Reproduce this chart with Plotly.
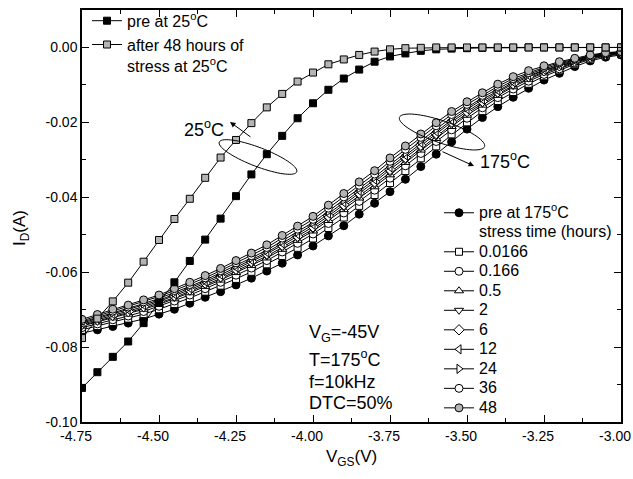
import numpy as np
import plotly.graph_objects as go

# ---------------- data ----------------
vgs = [-4.75, -4.70, -4.65, -4.60, -4.55, -4.50, -4.45, -4.40, -4.35, -4.30,
       -4.25, -4.20, -4.15, -4.10, -4.05, -4.00, -3.95, -3.90, -3.85, -3.80,
       -3.75, -3.70, -3.65, -3.60, -3.55, -3.50, -3.45, -3.40, -3.35, -3.30,
       -3.25, -3.20, -3.15, -3.10, -3.05, -3.00]

pre_25 = [-0.0909, -0.0867, -0.0826, -0.0785, -0.0736, -0.0682, -0.0627, -0.0570, -0.0513, -0.0457,
          -0.0397, -0.0339, -0.0285, -0.0236, -0.0189, -0.0149, -0.0113, -0.0083, -0.0059, -0.0038,
          -0.0024, -0.0016, -0.0009, -0.0005, -0.0003, -0.0002, -0.0001, -0.0001, -0.0001, 0.0,
          0.0, 0.0, 0.0, 0.0, 0.0, 0.0]
after48_25 = [-0.0776, -0.0724, -0.0678, -0.0628, -0.0572, -0.0514, -0.0458, -0.0404, -0.0348, -0.0294,
              -0.0247, -0.0202, -0.0160, -0.0124, -0.0091, -0.0067, -0.0045, -0.0032, -0.0020, -0.0011,
              -0.0005, -0.0002, -0.0001, 0.0, 0.0, 0.0, 0.0, 0.0, 0.0, 0.0,
              0.0, 0.0, 0.0, 0.0, 0.0, 0.0]

pre_175 = [-0.0763, -0.0754, -0.0745, -0.0736, -0.0725, -0.0712, -0.0699, -0.0683, -0.0667, -0.0652,
           -0.0634, -0.0616, -0.0597, -0.0576, -0.0554, -0.0530, -0.0503, -0.0476, -0.0445, -0.0416,
           -0.0385, -0.0352, -0.0318, -0.0285, -0.0252, -0.0218, -0.0187, -0.0158, -0.0133, -0.0109,
           -0.0087, -0.0069, -0.0051, -0.0036, -0.0026, -0.0020]
t_0166 = [-0.0754, -0.0744, -0.0733, -0.0724, -0.0712, -0.0699, -0.0685, -0.0669, -0.0652, -0.0636,
          -0.0618, -0.0599, -0.0579, -0.0557, -0.0535, -0.0510, -0.0482, -0.0454, -0.0423, -0.0394,
          -0.0362, -0.0330, -0.0296, -0.0264, -0.0232, -0.0200, -0.0170, -0.0143, -0.0119, -0.0097,
          -0.0077, -0.0061, -0.0045, -0.0032, -0.0023, -0.0018]
t_166 = [-0.0748, -0.0738, -0.0727, -0.0717, -0.0705, -0.0691, -0.0677, -0.0661, -0.0644, -0.0627,
         -0.0608, -0.0589, -0.0569, -0.0546, -0.0523, -0.0498, -0.0470, -0.0442, -0.0411, -0.0381,
         -0.0349, -0.0316, -0.0283, -0.0251, -0.0220, -0.0189, -0.0161, -0.0134, -0.0111, -0.0090,
         -0.0072, -0.0057, -0.0042, -0.0030, -0.0021, -0.0016]
t_05 = [-0.0744, -0.0733, -0.0722, -0.0712, -0.0699, -0.0686, -0.0671, -0.0655, -0.0638, -0.0621,
        -0.0601, -0.0582, -0.0562, -0.0539, -0.0515, -0.0490, -0.0462, -0.0433, -0.0402, -0.0372,
        -0.0340, -0.0307, -0.0274, -0.0243, -0.0211, -0.0181, -0.0154, -0.0128, -0.0105, -0.0085,
        -0.0068, -0.0053, -0.0040, -0.0028, -0.0020, -0.0015]
t_2 = [-0.0742, -0.0731, -0.0719, -0.0709, -0.0696, -0.0682, -0.0668, -0.0651, -0.0634, -0.0617,
       -0.0597, -0.0578, -0.0557, -0.0534, -0.0510, -0.0485, -0.0456, -0.0427, -0.0396, -0.0366,
       -0.0334, -0.0301, -0.0268, -0.0237, -0.0206, -0.0176, -0.0149, -0.0124, -0.0102, -0.0082,
       -0.0065, -0.0051, -0.0038, -0.0027, -0.0019, -0.0015]
t_6 = [-0.0739, -0.0727, -0.0715, -0.0705, -0.0692, -0.0678, -0.0663, -0.0647, -0.0629, -0.0612,
       -0.0592, -0.0572, -0.0551, -0.0528, -0.0504, -0.0479, -0.0450, -0.0420, -0.0389, -0.0359,
       -0.0326, -0.0294, -0.0261, -0.0230, -0.0199, -0.0171, -0.0144, -0.0119, -0.0097, -0.0078,
       -0.0062, -0.0049, -0.0037, -0.0026, -0.0018, -0.0014]
t_12 = [-0.0736, -0.0724, -0.0712, -0.0701, -0.0688, -0.0675, -0.0659, -0.0643, -0.0625, -0.0607,
        -0.0587, -0.0568, -0.0547, -0.0523, -0.0499, -0.0473, -0.0444, -0.0414, -0.0383, -0.0353,
        -0.0320, -0.0288, -0.0255, -0.0225, -0.0194, -0.0165, -0.0139, -0.0115, -0.0093, -0.0075,
        -0.0060, -0.0047, -0.0035, -0.0024, -0.0017, -0.0014]
t_24 = [-0.0733, -0.0721, -0.0708, -0.0698, -0.0684, -0.0670, -0.0655, -0.0638, -0.0621, -0.0602,
        -0.0582, -0.0562, -0.0541, -0.0517, -0.0492, -0.0467, -0.0437, -0.0407, -0.0376, -0.0346,
        -0.0313, -0.0281, -0.0248, -0.0218, -0.0187, -0.0160, -0.0134, -0.0110, -0.0089, -0.0071,
        -0.0057, -0.0044, -0.0033, -0.0023, -0.0016, -0.0013]
t_36 = [-0.0730, -0.0717, -0.0704, -0.0693, -0.0679, -0.0665, -0.0649, -0.0633, -0.0615, -0.0596,
        -0.0575, -0.0556, -0.0534, -0.0509, -0.0485, -0.0459, -0.0429, -0.0399, -0.0368, -0.0338,
        -0.0304, -0.0272, -0.0240, -0.0209, -0.0179, -0.0152, -0.0128, -0.0104, -0.0083, -0.0067,
        -0.0053, -0.0041, -0.0031, -0.0022, -0.0015, -0.0012]
t_48 = [-0.0726, -0.0713, -0.0699, -0.0688, -0.0674, -0.0661, -0.0644, -0.0627, -0.0609, -0.0590,
        -0.0569, -0.0549, -0.0527, -0.0502, -0.0477, -0.0451, -0.0421, -0.0390, -0.0359, -0.0329,
        -0.0295, -0.0263, -0.0231, -0.0201, -0.0171, -0.0145, -0.0121, -0.0098, -0.0078, -0.0062,
        -0.0049, -0.0038, -0.0029, -0.0020, -0.0014, -0.0011]

stress_names = ["0.0166", "0.166", "0.5", "2", "6", "12", "24", "36", "48"]
stress_series = [t_0166, t_166, t_05, t_2, t_6, t_12, t_24, t_36, t_48]

x_tickvals = [-4.75, -4.50, -4.25, -4.00, -3.75, -3.50, -3.25, -3.00]
x_ticktext = ["-4.75", "-4.50", "-4.25", "-4.00", "-3.75", "-3.50", "-3.25", "-3.00"]
x_minor = [-4.625, -4.375, -4.125, -3.875, -3.625, -3.375, -3.125]
y_tickvals = [-0.10, -0.08, -0.06, -0.04, -0.02, 0.00]
y_ticktext = ["-0.10", "-0.08", "-0.06", "-0.04", "-0.02", "0.00"]
y_minor = [-0.09, -0.07, -0.05, -0.03, -0.01]

# ---------------- layout constants ----------------
W, H = 633, 479
M_L, M_R, M_T, M_B = 82, 12, 10, 57
PW, PH = W - M_L - M_R, H - M_T - M_B
X_RANGE = [-4.75, -3.00]
Y_RANGE = [-0.10, 0.01]
FONT = "Arial, Liberation Sans, sans-serif"
GRAY = "#b4b4b4"


def px2x(px):
    return X_RANGE[0] + (px - M_L) / PW * (X_RANGE[1] - X_RANGE[0])


def px2y(py):
    return Y_RANGE[1] - (py - M_T) / PH * (Y_RANGE[1] - Y_RANGE[0])


def ellipse_path(cx, cy, a, b, deg):
    th = np.radians(deg)
    t = np.linspace(0, 2 * np.pi, 73)
    X = cx + a * np.cos(th) * np.cos(t) - b * np.sin(th) * np.sin(t)
    Y = cy + a * np.sin(th) * np.cos(t) + b * np.cos(th) * np.sin(t)
    pts = [f"{px2x(x):.5f},{px2y(y):.6f}" for x, y in zip(X, Y)]
    return "M " + " L ".join(pts) + " Z"


def big(s):
    return f'<span style="font-size:16px">{s}</span>'


fig = go.Figure()

line_style = dict(color="black", width=1)

# 175 C bundle (legend2)
fig.add_trace(go.Scatter(
    x=vgs, y=pre_175, mode="lines+markers", name=big("pre at 175<sup>o</sup>C"),
    line=line_style, marker=dict(symbol="circle", size=8, color="black",
                                 line=dict(color="black", width=1)),
    legend="legend2"))
fig.add_trace(go.Scatter(
    x=[None], y=[None], mode="lines", name=big("stress time (hours)"),
    line=dict(color="rgba(0,0,0,0)", width=0), legend="legend2"))

symbols = ["square", "circle", "triangle-up", "triangle-down", "diamond",
           "triangle-left", "triangle-right", "circle", "circle"]
fills = ["white"] * 8 + [GRAY]
for nm, ys, sym, fc in zip(stress_names, stress_series, symbols, fills):
    sz = 7 if sym == "square" else 8
    fig.add_trace(go.Scatter(
        x=vgs, y=ys, mode="lines+markers", name=big(nm), line=line_style,
        marker=dict(symbol=sym, size=sz, color=fc, line=dict(color="black", width=1)),
        legend="legend2"))

# 25 C curves (legend)
fig.add_trace(go.Scatter(
    x=vgs, y=pre_25, mode="lines+markers", name="pre at 25<sup>o</sup>C",
    line=line_style, marker=dict(symbol="square", size=7, color="black",
                                 line=dict(color="black", width=1)),
    legend="legend"))
fig.add_trace(go.Scatter(
    x=vgs, y=after48_25, mode="lines+markers",
    name="after 48 hours of<br>stress at 25<sup>o</sup>C",
    line=line_style, marker=dict(symbol="square", size=7, color=GRAY,
                                 line=dict(color="black", width=1)),
    legend="legend"))

axis_common = dict(
    showline=True, linecolor="black", linewidth=1.5, mirror="ticks",
    ticks="inside", ticklen=7, tickwidth=1.3, tickcolor="black",
    showgrid=False, zeroline=False, automargin=False,
    tickfont=dict(family=FONT, size=14, color="black"),
)

fig.update_layout(
    width=W, height=H,
    margin=dict(l=M_L, r=M_R, t=M_T, b=M_B, autoexpand=False),
    paper_bgcolor="white", plot_bgcolor="white",
    font=dict(family=FONT, color="black"),
    xaxis=dict(range=X_RANGE, tickmode="array", tickvals=x_tickvals, ticktext=x_ticktext,
               minor=dict(tickvals=x_minor, ticks="inside", ticklen=4, tickwidth=1.3,
                          tickcolor="black"),
               ticklabelshift=-6, **axis_common),
    yaxis=dict(range=Y_RANGE, tickmode="array", tickvals=y_tickvals, ticktext=y_ticktext,
               minor=dict(tickvals=y_minor, ticks="inside", ticklen=4, tickwidth=1.3,
                          tickcolor="black"),
               **axis_common),
    legend=dict(x=(87 - M_L) / PW, y=(H - M_B - 3.8) / PH, xanchor="left", yanchor="top",
                font=dict(family=FONT, size=16, color="black"), bgcolor="rgba(0,0,0,0)",
                valign="top", itemwidth=30),
    legend2=dict(x=(439 - M_L) / PW, y=(H - M_B - 198) / PH, xanchor="left", yanchor="top",
                 font=dict(family=FONT, size=12.7, color="black"), bgcolor="rgba(0,0,0,0)",
                 itemwidth=30),
    showlegend=True,
)

# ellipses
fig.add_shape(type="path", xref="x", yref="y", path=ellipse_path(258, 157, 41.5, 9.5, 21),
              line=dict(color="black", width=1))
fig.add_shape(type="path", xref="x", yref="y", path=ellipse_path(442, 132, 45, 11, 19),
              line=dict(color="black", width=1))

# arrows
fig.add_annotation(x=px2x(230), y=px2y(122), ax=22, ay=16, text="", showarrow=True,
                   arrowhead=2, arrowsize=1.1, arrowwidth=1, arrowcolor="black")
fig.add_annotation(x=px2x(474), y=px2y(166), ax=-33, ay=-15, text="", showarrow=True,
                   arrowhead=2, arrowsize=1.1, arrowwidth=1, arrowcolor="black")

ann_font = dict(family=FONT, size=18, color="black")
fig.add_annotation(x=px2x(204), y=px2y(128), text="25<sup>o</sup>C", showarrow=False,
                   font=ann_font, xanchor="center", yanchor="middle")
fig.add_annotation(x=px2x(505), y=px2y(160), text="175<sup>o</sup>C", showarrow=False,
                   font=ann_font, xanchor="center", yanchor="middle")

cond_lines = [("V<sub>G</sub>=-45V", 333), ("T=175<sup>o</sup>C", 358),
              ("f=10kHz", 382), ("DTC=50%", 403)]
for txt, py in cond_lines:
    fig.add_annotation(x=px2x(307), y=px2y(py), text=txt, showarrow=False, font=ann_font,
                       xanchor="left", yanchor="middle")

# axis titles
fig.add_annotation(xref="paper", yref="paper", x=0.5, y=(H - M_B - 458) / PH,
                   text="V<sub>GS</sub>(V)", showarrow=False,
                   font=dict(family=FONT, size=17, color="black"),
                   xanchor="center", yanchor="middle")
fig.add_annotation(xref="paper", yref="paper", x=(21 - M_L) / PW, y=(H - M_B - 228) / PH,
                   text="I<sub>D</sub>(A)", showarrow=False, textangle=-90,
                   font=dict(family=FONT, size=17, color="black"),
                   xanchor="center", yanchor="middle")

fig.write_html("out.html",
               config={"displayModeBar": False},
               post_script="document.body.style.margin='0px';"
                           "document.body.style.overflow='hidden';")
